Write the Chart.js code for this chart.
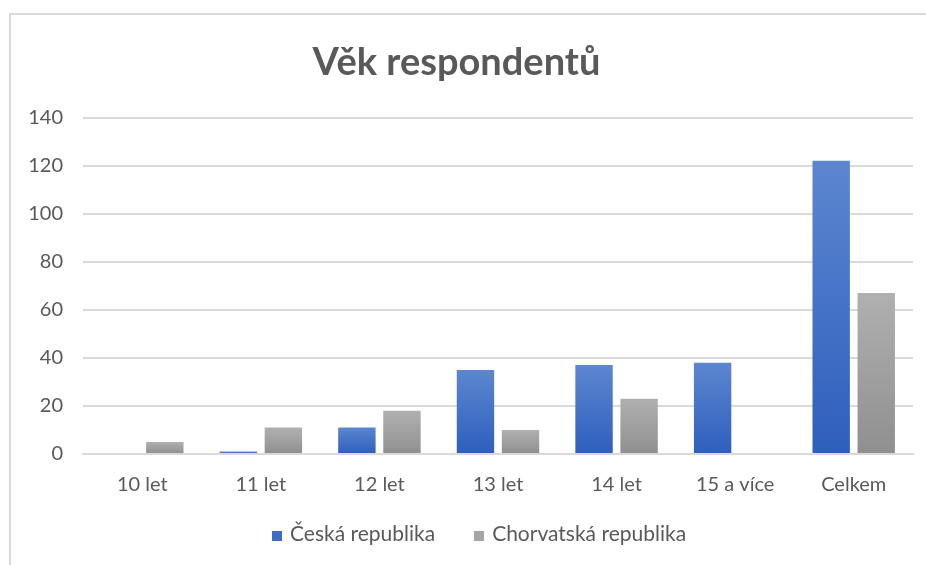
<!DOCTYPE html>
<html>
<head>
<meta charset="utf-8">
<script src="https://cdn.jsdelivr.net/npm/chart.js@4"></script>
<style>
  html, body { margin: 0; padding: 0; background: #fff; }
  #frame {
    position: absolute; left: 9px; top: 13px; width: 940px; height: 600px;
    border-left: 2px solid #d9d9d9; border-top: 2px solid #d9d9d9;
  }
  #wrap { position: absolute; left: 0; top: 0; width: 926px; height: 565px; }
  #legend {
    position: absolute; left: 272px; top: 521px; height: 24px; line-height: 24px;
    font-family: Lato, 'Open Sans', sans-serif; font-size: 21px; color: #595959;
    white-space: nowrap;
  }
  #legend .item { display: inline-block; }
  #legend .item + .item { margin-left: 39px; }
  #legend .box { display: inline-block; width: 10px; height: 10px; margin-right: 8px; vertical-align: 0; }
</style>
</head>
<body>
<div id="frame"></div>
<div id="wrap"><canvas id="ageChart"></canvas></div>
<div id="legend"></div>
<script>
// Chart data
const categories = ['10 let', '11 let', '12 let', '13 let', '14 let', '15 a více', 'Celkem'];
const seriesNames = ['Česká republika', 'Chorvatská republika'];
const czechValues = [0, 1, 11, 35, 37, 38, 122];
const croatiaValues = [5, 11, 18, 10, 23, 0, 67];
const yTicks = [0, 20, 40, 60, 80, 100, 120, 140];

const FONT = "Lato, 'Open Sans', sans-serif";
const TEXT = '#595959';
const legendColors = ['#3e6cc7', '#a5a5a5'];

// vertical gradient per bar, from the bar top down to the baseline
function barGradient(top, bottom) {
  return ctx => {
    const chart = ctx.chart;
    const y = chart.scales.y;
    if (!y || ctx.raw == null) return bottom;
    const yTop = y.getPixelForValue(ctx.raw);
    const yBase = y.getPixelForValue(0);
    if (!isFinite(yTop) || yTop === yBase) return bottom;
    const g = chart.ctx.createLinearGradient(0, yTop, 0, yBase);
    g.addColorStop(0, top);
    g.addColorStop(1, bottom);
    return g;
  };
}

const chart = new Chart(document.getElementById('ageChart'), {
  type: 'bar',
  data: {
    labels: categories,
    datasets: [{
      label: seriesNames[0],
      data: czechValues,
      backgroundColor: barGradient('#5c86d0', '#2d5fbc'),
      barPercentage: 0.83,
      categoryPercentage: 0.76
    }, {
      label: seriesNames[1],
      data: croatiaValues,
      backgroundColor: barGradient('#b0b0b0', '#8f8f8f'),
      barPercentage: 0.83,
      categoryPercentage: 0.76
    }]
  },
  options: {
    responsive: true,
    maintainAspectRatio: false,
    animation: false,
    layout: { padding: { left: 0, right: 13, top: 40, bottom: 57 } },
    plugins: {
      title: {
        display: true,
        text: 'Věk respondentů',
        color: TEXT,
        font: { family: FONT, size: 38, weight: 'bold' },
        padding: { top: 0, bottom: 32 }
      },
      legend: { display: false },
      tooltip: { enabled: false }
    },
    scales: {
      x: {
        grid: { display: false },
        border: { color: '#d9d9d9', width: 2 },
        ticks: { color: TEXT, font: { family: FONT, size: 20 }, padding: 11 }
      },
      y: {
        min: 0,
        max: 140,
        afterFit: scale => { scale.width = 83; },
        afterBuildTicks: scale => { scale.ticks = yTicks.map(v => ({ value: v })); },
        grid: { color: '#d9d9d9', lineWidth: 2, drawTicks: false },
        border: { display: false },
        ticks: { color: TEXT, font: { family: FONT, size: 20 }, padding: 20 }
      }
    }
  }
});

// legend as plain HTML under the chart
const legendEl = document.getElementById('legend');
chart.data.datasets.forEach((ds, i) => {
  const item = document.createElement('span');
  item.className = 'item';
  const box = document.createElement('span');
  box.className = 'box';
  box.style.background = legendColors[i];
  item.appendChild(box);
  item.appendChild(document.createTextNode(ds.label));
  legendEl.appendChild(item);
});
</script>
</body>
</html>
